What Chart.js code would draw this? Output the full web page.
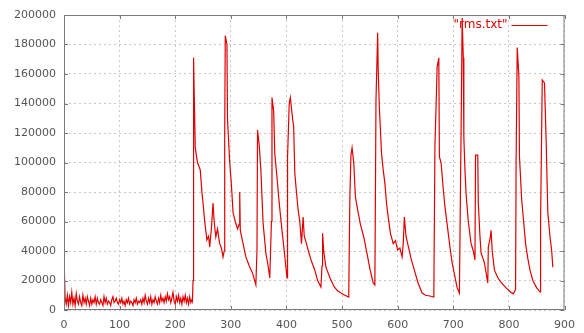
<!DOCTYPE html>
<html>
<head>
<meta charset="utf-8">
<script src="https://cdn.jsdelivr.net/npm/chart.js@4"></script>
<style>
  html, body { margin: 0; padding: 0; background: #fff; }
  #wrap { width: 584px; height: 333px; }
</style>
</head>
<body>
<div id="wrap"><canvas id="rmsChart" width="584" height="333"></canvas></div>
<script>
// Series name as shown in the key
const seriesLabel = '"rms.txt"';

// Quiet period at the start (sample index / rms value)
const quietX = [0, 2, 4, 6, 8, 10, 12, 14, 16, 18, 20, 22, 24, 26, 28, 30, 32, 34, 36, 38,
  40, 42, 44, 46, 48, 50, 52, 54, 56, 58, 60, 62, 64, 66, 68, 70, 72, 74, 76, 78,
  80, 82, 84, 86, 88, 90, 92, 94, 96, 98, 100, 102, 104, 106, 108, 110, 112, 114, 116, 118,
  120, 122, 124, 126, 128, 130, 132, 134, 136, 138, 140, 142, 144, 146, 148, 150, 152, 154, 156, 158,
  160, 162, 164, 166, 168, 170, 172, 174, 176, 178, 180, 182, 184, 186, 188, 190, 192, 194, 196, 198,
  200, 202, 204, 206, 208, 210, 212, 214, 216, 218, 220, 222, 224, 226, 228, 230, 231];
const quietY = [36000, 8000, 4000, 10000, 3000, 9000, 5000, 12000, 4000, 8000, 3000, 11000, 6000, 4000, 9000, 5000, 3000, 10000, 5000, 8000,
  4000, 9000, 6000, 3000, 8000, 4000, 7000, 5000, 9000, 4000, 8000, 5000, 4000, 7000, 5000, 3000, 9000, 5000, 8000, 4000,
  6000, 5000, 3000, 7000, 9000, 5000, 6000, 8000, 5000, 4000, 7000, 5000, 8000, 4000, 6000, 3000, 7000, 5000, 8000, 4000,
  6000, 5000, 3000, 7000, 5000, 8000, 4000, 6000, 5000, 7000, 4000, 8000, 5000, 10000, 6000, 4000, 8000, 5000, 9000, 4000,
  7000, 5000, 9000, 6000, 4000, 8000, 5000, 10000, 6000, 8000, 5000, 9000, 6000, 11000, 7000, 9000, 5000, 8000, 12000, 6000,
  4000, 9000, 6000, 10000, 5000, 8000, 4000, 9000, 6000, 10000, 5000, 8000, 4000, 9000, 5000, 7000, 6000];

// Bursts after sample 230
const burstX = [232, 233, 234, 236, 240, 245, 248, 250, 253, 257, 260, 262, 265, 268, 270, 273, 276, 280, 283, 286,
  288, 289, 290, 293, 294, 295, 298, 301, 304, 308, 312, 315, 316, 317, 322, 327, 333, 339, 345, 347,
  348, 351, 354, 358, 363, 367, 370, 373, 374, 377, 379, 383, 386, 389, 392, 396, 401, 402, 405, 407,
  411, 413, 415, 418, 421, 424, 427, 430, 432, 436, 439, 445, 451, 456, 462, 464, 465, 467, 471, 478,
  486, 492, 498, 505, 512, 514, 516, 518, 521, 524, 528, 533, 539, 545, 550, 556, 559, 561, 564, 565,
  567, 571, 574, 577, 580, 583, 587, 592, 596, 600, 604, 608, 610, 612, 615, 618, 624, 630, 637, 644,
  650, 658, 665, 667, 671, 674, 675, 678, 682, 685, 690, 694, 698, 703, 707, 711, 714, 716, 718, 719,
  721, 723, 727, 732, 736, 739, 740, 744, 745, 748, 750, 756, 762, 763, 766, 768, 770, 774, 780, 785,
  790, 795, 803, 808, 812, 813, 815, 818, 819, 823, 827, 830, 834, 838, 843, 850, 856, 857, 860, 864,
  867, 870, 874, 877, 879];
const burstY = [20000, 171000, 150000, 110000, 100000, 95000, 80000, 72500, 60000, 47500, 50000, 42700, 55000, 72500, 60000, 49500, 55000, 45000, 42000, 36000,
  40000, 120000, 186000, 180000, 130000, 122000, 100000, 85000, 66000, 60000, 55000, 58000, 80000, 54000, 45000, 36000, 30000, 25000, 17000, 40000,
  122000, 112000, 95000, 59000, 38600, 30000, 21700, 60000, 144000, 135000, 106000, 90000, 76600, 65000, 54000, 40000, 21700, 104000, 140000, 144000,
  130000, 124000, 93000, 80000, 68000, 60000, 45000, 63000, 50000, 45000, 40700, 33000, 27000, 20000, 15600, 30000, 52000, 40000, 29000, 22000,
  15600, 13000, 11500, 10000, 8800, 76000, 105000, 110000, 100000, 76600, 68000, 58000, 49500, 38000, 28000, 18300, 17000, 142000, 188000, 163000,
  138000, 106000, 95000, 86000, 72000, 63000, 52000, 45000, 47000, 40700, 42000, 36000, 45000, 63000, 50000, 45000, 35000, 27000, 18000, 11500,
  10000, 9500, 8800, 110000, 165000, 171000, 104000, 100000, 82000, 70000, 55000, 42700, 32000, 22400, 15000, 11500, 120000, 198000, 171000, 117000,
  95000, 79000, 60000, 45000, 40000, 34000, 105000, 105000, 72500, 50000, 38600, 32000, 18300, 42700, 48000, 54000, 40000, 27000, 22000, 19000,
  17000, 15000, 12200, 11000, 14000, 102000, 178000, 158000, 104000, 74600, 58000, 45000, 35000, 27000, 20000, 15000, 12200, 61000, 156000, 154000,
  115000, 66000, 49500, 40000, 29000];

// Axis ranges and tick steps
const xMin = 0, xMax = 900, xStep = 100;
const yMin = 0, yMax = 200000, yStep = 20000;

const sampleX = quietX.concat(burstX);
const sampleY = quietY.concat(burstY);
const points = sampleX.map((x, i) => ({ x: x, y: sampleY[i] }));

const lineRed = '#e00000';
const frameGrey = '#7a7a7a';

// gnuplot-like frame with inward ticks, plus the key in the top right
const framePlugin = {
  id: 'frame',
  afterDraw(chart) {
    const { ctx, chartArea: a, scales } = chart;
    ctx.save();
    ctx.strokeStyle = frameGrey;
    ctx.lineWidth = 1;
    ctx.strokeRect(a.left + 0.5, a.top + 0.5, a.right - a.left - 1, a.bottom - a.top - 1);
    ctx.beginPath();
    scales.y.ticks.forEach(t => {
      const y = Math.round(scales.y.getPixelForValue(t.value)) + 0.5;
      ctx.moveTo(a.left, y); ctx.lineTo(a.left + 4, y);
      ctx.moveTo(a.right - 4, y); ctx.lineTo(a.right, y);
    });
    scales.x.ticks.forEach(t => {
      const x = Math.round(scales.x.getPixelForValue(t.value)) + 0.5;
      ctx.moveTo(x, a.bottom); ctx.lineTo(x, a.bottom - 4);
      ctx.moveTo(x, a.top); ctx.lineTo(x, a.top + 4);
    });
    ctx.stroke();

    // key
    ctx.font = '12px "DejaVu Sans"';
    ctx.fillStyle = lineRed;
    ctx.textAlign = 'right';
    ctx.textBaseline = 'middle';
    ctx.fillText(chart.data.datasets[0].label, a.right - 57, a.top + 10);
    ctx.strokeStyle = lineRed;
    ctx.beginPath();
    ctx.moveTo(a.right - 53, a.top + 10.5);
    ctx.lineTo(a.right - 17, a.top + 10.5);
    ctx.stroke();
    ctx.restore();
  }
};

const ctx = document.getElementById('rmsChart').getContext('2d');
new Chart(ctx, {
  type: 'line',
  data: {
    datasets: [{
      label: seriesLabel,
      data: points,
      borderColor: lineRed,
      borderWidth: 1.2,
      pointRadius: 0,
      tension: 0,
      fill: false
    }]
  },
  options: {
    responsive: false,
    animation: false,
    layout: { padding: { left: 0, right: 9, top: 15, bottom: 0 } },
    plugins: {
      legend: { display: false },
      tooltip: { enabled: false }
    },
    scales: {
      x: {
        type: 'linear',
        min: xMin,
        max: xMax,
        afterFit(scale) { scale.height = 23; },
        ticks: {
          stepSize: xStep,
          color: '#555',
          padding: 9,
          maxRotation: 0,
          font: { family: 'DejaVu Sans', size: 11 }
        },
        grid: { color: '#c8c8c8', drawTicks: false },
        border: { display: false, dash: [2, 3] }
      },
      y: {
        type: 'linear',
        min: yMin,
        max: yMax,
        afterFit(scale) { scale.width = 64; },
        ticks: {
          stepSize: yStep,
          color: '#555',
          padding: 8,
          font: { family: 'DejaVu Sans', size: 11 },
          callback: v => String(v)
        },
        grid: { color: '#c8c8c8', drawTicks: false },
        border: { display: false, dash: [2, 3] }
      }
    }
  },
  plugins: [framePlugin]
});
</script>
</body>
</html>
